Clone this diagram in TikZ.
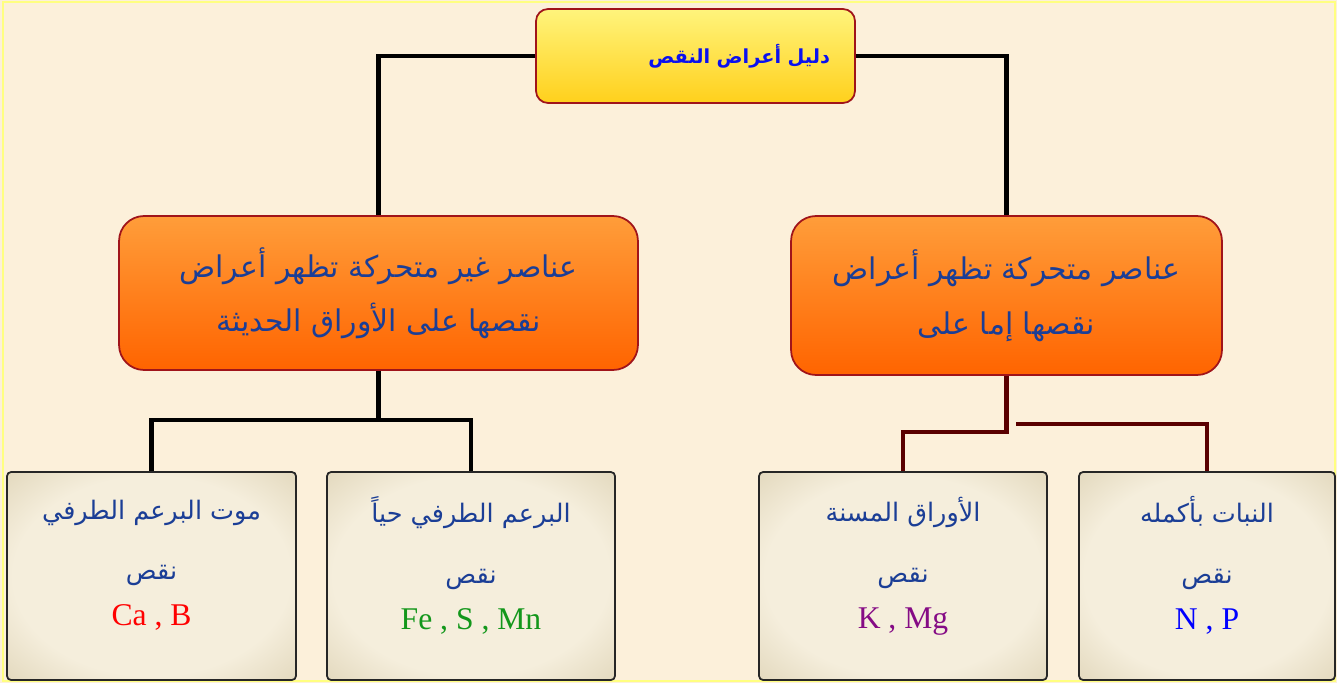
\documentclass[tikz,border=0pt]{standalone}
\usepackage{fontspec}
\setmainfont{Liberation Serif}
\newfontfamily\arabicfont[Script=Arabic]{DejaVu Sans}
\TeXXeTstate=1
\newcommand\elementfont{\rmfamily\fontsize{18}{20}\selectfont}

\definecolor{paper}{HTML}{FCF0DA}
\definecolor{frameyellow}{HTML}{FFFF80}
\definecolor{titletop}{HTML}{FFF47C}
\definecolor{titlebot}{HTML}{FFD01C}
\definecolor{boxred}{HTML}{A0141A}
\definecolor{orangetop}{HTML}{FF9D3A}
\definecolor{orangebot}{HTML}{FF6400}
\definecolor{inkblue}{HTML}{1B3E96}
\definecolor{titleblue}{HTML}{0A10F0}
\definecolor{tanin}{HTML}{F5EEDC}
\definecolor{tanout}{HTML}{CCBE98}
\definecolor{darkmaroon}{HTML}{5A0000}
\definecolor{leafgreen}{HTML}{13971B}
\definecolor{mgpurple}{HTML}{850B85}

% soft glow for the lower boxes
\pgfdeclareradialshading{leafglow}{\pgfpoint{0bp}{0bp}}{color(0bp)=(tanin); color(24bp)=(tanin); color(50bp)=(tanout); color(80bp)=(tanout)}

\begin{document}
\begin{tikzpicture}[
    x=0.02cm, y=-0.02cm, % one unit = one pixel of the sketch
    link/.style={line width=2.8pt}, % black connectors
    darklink/.style={line width=2.8pt, darkmaroon}, % connectors on the right
    titlebox/.style={draw=boxred, line width=1pt, rounded corners=0.24cm,
        top color=titletop, bottom color=titlebot,
        text width=5.38cm, inner xsep=0.5cm, minimum height=1.88cm, align=right,
        text=titleblue, font=\arabicfont\bfseries\fontsize{11}{14}\selectfont},
    groupbox/.style={draw=boxred, line width=1pt, rounded corners=0.5cm,
        top color=orangetop, bottom color=orangebot, align=center,
        text=inkblue, font=\arabicfont\fontsize{17}{31}\selectfont},
    leafbox/.style={draw=black!85, line width=1pt, rounded corners=0.08cm,
        shading=leafglow, minimum width=5.76cm, minimum height=4.16cm,
        align=center, text=inkblue, font=\arabicfont\fontsize{14.5}{26}\selectfont}
]

    % Background and frame
    \fill[paper] (0,0) rectangle (1337,683);
    \draw[frameyellow, line width=1.6pt] (3,2) rectangle (1335,681);

    % Title
    \node[titlebox] (title) at (695.5,56) {\beginR دليل أعراض النقص\endR};

    % Two groups of elements
    \node[groupbox, minimum width=10.38cm, minimum height=3.08cm] (fixed) at (378.5,293)
        {\beginR عناصر غير متحركة تظهر أعراض\endR\\\beginR نقصها على الأوراق الحديثة\endR};
    \node[groupbox, minimum width=8.62cm, minimum height=3.18cm] (mobile) at (1006.5,295.5)
        {\beginR عناصر متحركة تظهر أعراض\endR\\\beginR نقصها إما على\endR};

    % Lower boxes
    \node[leafbox, minimum width=5.78cm] (budDeath) at (151.5,576)
        {\beginR موت البرعم الطرفي\endR\\[8.5pt]\beginR نقص\endR\\[0pt]{\elementfont\color{red}Ca , B\rule[-15pt]{0pt}{15pt}}};
    \node[leafbox] (budAlive) at (471,576)
        {\beginR البرعم الطرفي حياً\endR\\[8.5pt]\beginR نقص\endR\\[0pt]{\elementfont\color{leafgreen}Fe , S , Mn\rule[-15pt]{0pt}{15pt}}};
    \node[leafbox] (oldLeaves) at (903,576)
        {\beginR الأوراق المسنة\endR\\[8.5pt]\beginR نقص\endR\\[0pt]{\elementfont\color{mgpurple}K , Mg\rule[-15pt]{0pt}{15pt}}};
    \node[leafbox, minimum width=5.12cm] (wholePlant) at (1207,576)
        {\beginR النبات بأكمله\endR\\[8.5pt]\beginR نقص\endR\\[0pt]{\elementfont\color{blue}N , P\rule[-15pt]{0pt}{15pt}}};

    % Connectors from the title
    \draw[link] (title.west) -| (fixed.north);
    \draw[link] (title.east) -| (mobile.north);

    % Connectors below the left group
    \coordinate (fixedSplit) at (0,420);
    \draw[link] (fixed.south) -- (fixed.south |- fixedSplit) -| (budDeath.north);
    \draw[link] (fixed.south |- fixedSplit) -| (budAlive.north);

    % Connectors below the right group
    \coordinate (mobileSplit) at (0,432);
    \coordinate (mobileStub) at (1016,424);
    \draw[darklink] (mobile.south) -- (mobile.south |- mobileSplit) -| (oldLeaves.north);
    \draw[darklink] (mobileStub) -| (wholePlant.north);

\end{tikzpicture}
\end{document}
